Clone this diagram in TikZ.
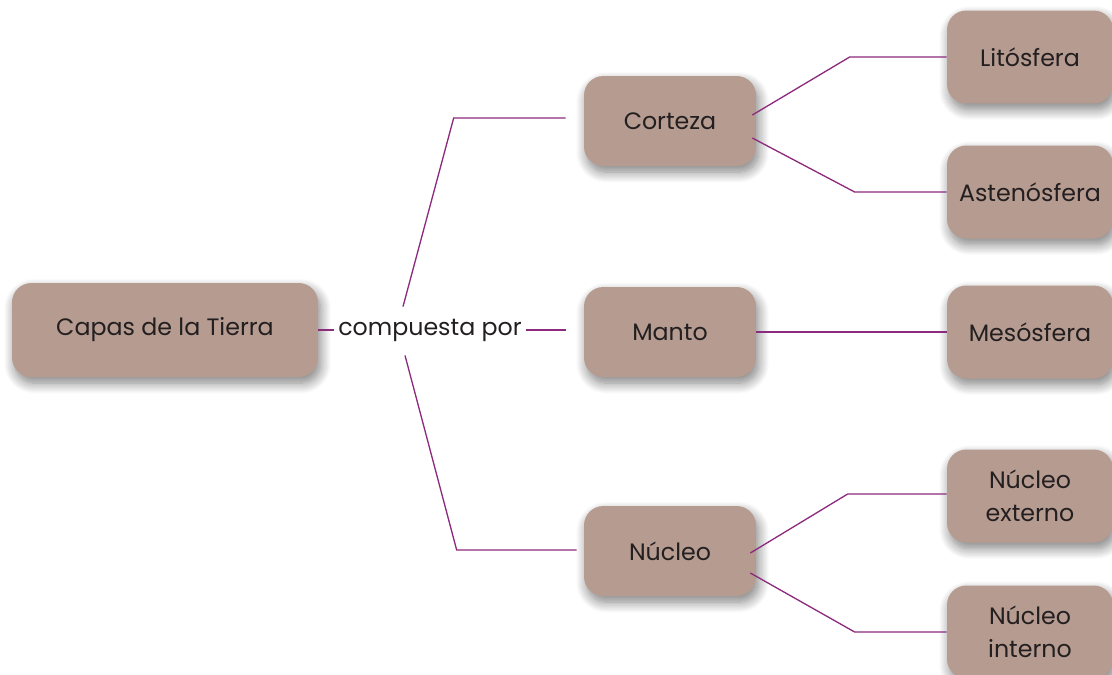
\documentclass[tikz,border=0pt]{standalone}
\usepackage{fontspec}
\setmainfont{Poppins}
\usetikzlibrary{calc}
\usetikzlibrary{positioning}
\usetikzlibrary{shadows.blur}
\definecolor{tcfill}{HTML}{B69B90}
\definecolor{tcink}{HTML}{231F20}
\definecolor{tcline}{HTML}{8C2A7C}
\tikzset{
  tcbox/.style={
    fill=tcfill, rounded corners=11pt, align=center, text=tcink,
    font=\fontsize{13.5}{18.5}\selectfont, inner sep=2pt,
    blur shadow={shadow xshift=1.5pt, shadow yshift=-3.5pt,
      shadow blur radius=6pt, shadow blur steps=12, shadow opacity=50}},
  tcleft/.style={tcbox, minimum width=3.44cm, minimum height=1.8cm},
  tcright/.style={tcbox, minimum width=3.32cm, minimum height=1.86cm},
  tclink/.style={draw=tcline, line width=0.75pt},
  tcword/.style={font=\fontsize{13.5}{18.5}\selectfont, text=tcink,
    inner xsep=0.08cm},
}

\begin{document}
\begin{tikzpicture}[x=0.02cm, y=-0.02cm]
\useasboundingbox (0,0) rectangle (1112,674);

% Root and its joining phrase.
\node[tcbox, minimum width=6.12cm, minimum height=1.88cm] (capas)
  at (165,330) {Capas de la Tierra};
\node[tcword] (compuesta) at (430,330) {compuesta por};

% The three layers.
\node[tcleft] (corteza) at (670,121) {Corteza};
\node[tcleft] (manto) at (670,332) {Manto};
\node[tcleft] (nucleo) at (670,551) {Núcleo};

% Their parts.
\node[tcright] (litosfera) at (1030,57) {Litósfera};
\node[tcright] (astenosfera) at (1030,192) {Astenósfera};
\node[tcright] (mesosfera) at (1030,332) {Mesósfera};
\node[tcright] (externo) at (1030,496) {Núcleo\\externo};
\node[tcright] (interno) at (1030,632) {Núcleo\\interno};

% Links from the root.
\draw[tclink] (capas.east) -- (compuesta.west);
\draw[tclink] (compuesta.east) -- ($(manto.west)+(-18,-2)$);
\draw[tclink] ($(compuesta.north)+(-27,-6)$)
  -- ($(corteza.west)+(-130,-3)$) -- ($(corteza.west)+(-18,-3)$);
\draw[tclink] ($(compuesta.south)+(-25,8)$)
  -- ($(nucleo.west)+(-127,-1)$) -- ($(nucleo.west)+(-7,-1)$);

% Links to the parts.
\draw[tclink] ($(corteza.east)+(-4,-6)$)
  -- ($(litosfera.west)+(-97,0)$) -- (litosfera.west);
\draw[tclink] ($(corteza.east)+(-4,17)$)
  -- ($(astenosfera.west)+(-92,0)$) -- (astenosfera.west);
\draw[tclink] (manto.east) -- (mesosfera.west);
\draw[tclink] ($(nucleo.east)+(-6,2)$)
  -- ($(externo.west)+(-99,-2)$) -- ($(externo.west)+(0,-2)$);
\draw[tclink] ($(nucleo.east)+(-6,22)$)
  -- ($(interno.west)+(-92,0)$) -- (interno.west);

\end{tikzpicture}
\end{document}
